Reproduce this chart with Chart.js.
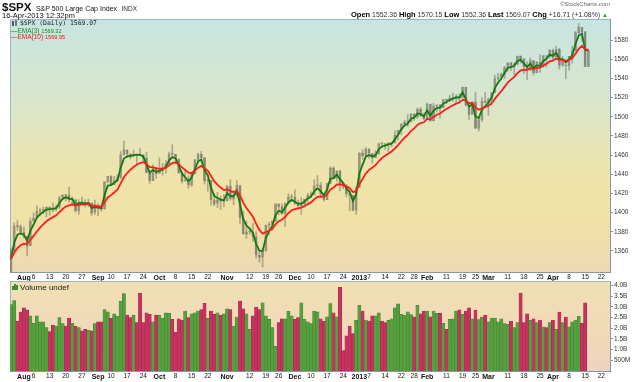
<!DOCTYPE html>
<html>
<head>
<meta charset="utf-8">
<script src="https://cdn.jsdelivr.net/npm/chart.js@4.4.1/dist/chart.umd.min.js"></script>
<style>
  html,body{margin:0;padding:0;background:#fff;}
  #wrap{position:relative;width:640px;height:382px;overflow:hidden;font-family:'Liberation Sans',Arial,sans-serif;color:#111;}
  .abs{position:absolute;white-space:nowrap;}
  canvas{position:absolute;left:0;}
</style>
</head>
<body>
<div id="wrap">
  <canvas id="price" width="640" height="283" style="top:0"></canvas>
  <canvas id="vol" width="640" height="110" style="top:272px"></canvas>

  <div class="abs" style="left:2px;top:0px;line-height:12px;"><b style="font-size:11.5px;">$SPX</b> <span style="font-size:7px;">S&amp;P 500 Large Cap Index</span> <span style="font-size:6.5px;color:#333;">INDX</span></div>
  <div class="abs" style="left:2px;top:11px;font-size:7.5px;line-height:9px;">16-Apr-2013 12:32pm</div>
  <div class="abs" style="right:30px;top:0px;font-size:6px;color:#666;line-height:8px;">&copy;StockCharts.com</div>
  <div class="abs" style="right:32px;top:10px;font-size:6.9px;color:#333;line-height:10px;"><b style="font-size:7.5px;color:#000;">Open</b> 1552.36 <b style="font-size:7.5px;color:#000;">High</b> 1570.15 <b style="font-size:7.5px;color:#000;">Low</b> 1552.36 <b style="font-size:7.5px;color:#000;">Last</b> 1569.07 <b style="font-size:7.5px;color:#000;">Chg</b> +16.71 (+1.08%) <span style="color:#2a9a2a;font-size:6px;">&#9650;</span></div>

  <div class="abs" style="left:12px;top:20px;height:7px;">
    <span style="position:absolute;left:0;top:1px;width:2px;height:5px;background:#555;"></span>
    <span style="position:absolute;left:3px;top:0px;width:2px;height:6px;background:#777;"></span>
  </div>
  <div class="abs" style="left:20px;top:19px;font-family:'DejaVu Sans Mono',monospace;font-size:6.4px;line-height:8px;color:#222;">$SPX (Daily) 1569.07</div>
  <div class="abs" style="left:11px;top:26.5px;font-size:6.5px;line-height:8px;color:#1f8a1f;">&mdash;EMA(3) <span style="font-size:5.6px;">1569.32</span></div>
  <div class="abs" style="left:11px;top:33px;font-size:6.5px;line-height:8px;color:#e02020;">&mdash;EMA(10) <span style="font-size:5.6px;">1569.95</span></div>

  <div class="abs" style="left:12px;top:284px;height:6px;">
    <span style="position:absolute;left:0;top:2px;width:1.5px;height:4px;background:#3f8f30;"></span>
    <span style="position:absolute;left:2px;top:0px;width:1.5px;height:6px;background:#3f8f30;"></span>
    <span style="position:absolute;left:4px;top:1px;width:1.5px;height:5px;background:#3f8f30;"></span>
  </div>
  <div class="abs" style="left:20px;top:282.5px;font-size:8px;line-height:9px;color:#222;">Volume undef</div>
</div>

<script>
// ---------------- DATA ----------------
const dates = [
  '2012-07-26','2012-07-27','2012-07-30','2012-07-31',
  '2012-08-01','2012-08-02','2012-08-03','2012-08-06','2012-08-07','2012-08-08','2012-08-09','2012-08-10','2012-08-13','2012-08-14','2012-08-15','2012-08-16','2012-08-17','2012-08-20','2012-08-21','2012-08-22','2012-08-23','2012-08-24','2012-08-27','2012-08-28','2012-08-29','2012-08-30','2012-08-31',
  '2012-09-04','2012-09-05','2012-09-06','2012-09-07','2012-09-10','2012-09-11','2012-09-12','2012-09-13','2012-09-14','2012-09-17','2012-09-18','2012-09-19','2012-09-20','2012-09-21','2012-09-24','2012-09-25','2012-09-26','2012-09-27','2012-09-28',
  '2012-10-01','2012-10-02','2012-10-03','2012-10-04','2012-10-05','2012-10-08','2012-10-09','2012-10-10','2012-10-11','2012-10-12','2012-10-15','2012-10-16','2012-10-17','2012-10-18','2012-10-19','2012-10-22','2012-10-23','2012-10-24','2012-10-25','2012-10-26','2012-10-31',
  '2012-11-01','2012-11-02','2012-11-05','2012-11-06','2012-11-07','2012-11-08','2012-11-09','2012-11-12','2012-11-13','2012-11-14','2012-11-15','2012-11-16','2012-11-19','2012-11-20','2012-11-21','2012-11-23','2012-11-26','2012-11-27','2012-11-28','2012-11-29','2012-11-30',
  '2012-12-03','2012-12-04','2012-12-05','2012-12-06','2012-12-07','2012-12-10','2012-12-11','2012-12-12','2012-12-13','2012-12-14','2012-12-17','2012-12-18','2012-12-19','2012-12-20','2012-12-21','2012-12-24','2012-12-26','2012-12-27','2012-12-28','2012-12-31',
  '2013-01-02','2013-01-03','2013-01-04','2013-01-07','2013-01-08','2013-01-09','2013-01-10','2013-01-11','2013-01-14','2013-01-15','2013-01-16','2013-01-17','2013-01-18','2013-01-22','2013-01-23','2013-01-24','2013-01-25','2013-01-28','2013-01-29','2013-01-30','2013-01-31',
  '2013-02-01','2013-02-04','2013-02-05','2013-02-06','2013-02-07','2013-02-08','2013-02-11','2013-02-12','2013-02-13','2013-02-14','2013-02-15','2013-02-19','2013-02-20','2013-02-21','2013-02-22','2013-02-25','2013-02-26','2013-02-27','2013-02-28',
  '2013-03-01','2013-03-04','2013-03-05','2013-03-06','2013-03-07','2013-03-08','2013-03-11','2013-03-12','2013-03-13','2013-03-14','2013-03-15','2013-03-18','2013-03-19','2013-03-20','2013-03-21','2013-03-22','2013-03-25','2013-03-26','2013-03-27','2013-03-28',
  '2013-04-01','2013-04-02','2013-04-03','2013-04-04','2013-04-05','2013-04-08','2013-04-09','2013-04-10','2013-04-11','2013-04-12','2013-04-15','2013-04-16'
];
// empty trading days kept at the right side of the time axis
const futureDates = ['2013-04-17','2013-04-18','2013-04-19','2013-04-22','2013-04-23','2013-04-24','2013-04-25'];

const open = [
  1338.2,1360.1,1385.9,1385.3,
  1379.3,1375.1,1365.5,1391.0,1394.5,1401.2,1402.3,1402.6,1405.9,1404.4,1403.9,1405.6,1415.8,1417.9,1418.1,1413.1,1413.5,1401.9,1411.1,1410.4,1409.3,1410.1,1400.1,
  1406.5,1404.9,1403.7,1432.1,1437.9,1429.1,1433.6,1436.6,1460.1,1465.4,1461.2,1459.5,1461.1,1460.3,1459.8,1456.9,1441.6,1433.4,1447.1,
  1440.9,1444.9,1446.1,1451.1,1461.4,1460.9,1455.9,1441.5,1432.8,1432.8,1428.8,1440.3,1454.2,1460.9,1457.3,1433.2,1433.7,1413.2,1409.7,1413.0,1411.0,
  1412.2,1427.6,1414.0,1417.3,1428.3,1394.5,1377.6,1379.9,1380.0,1374.6,1355.4,1353.4,1359.9,1386.8,1387.8,1391.0,1409.2,1406.3,1398.8,1410.0,1416.0,
  1416.3,1409.5,1407.1,1409.4,1414.0,1418.1,1418.6,1427.8,1428.5,1419.5,1413.5,1430.5,1446.8,1435.8,1443.7,1430.2,1426.7,1419.8,1418.1,1402.4,
  1426.2,1462.4,1459.4,1466.5,1461.9,1457.2,1461.0,1472.1,1472.1,1470.7,1472.3,1472.6,1480.9,1486.0,1492.6,1494.8,1494.8,1503.0,1500.2,1507.8,1502.0,
  1498.1,1513.2,1495.7,1511.3,1512.1,1509.4,1517.9,1517.0,1519.4,1520.3,1521.4,1519.8,1530.9,1512.0,1502.4,1515.6,1487.9,1496.9,1516.0,
  1514.7,1518.2,1525.2,1539.8,1541.5,1544.3,1551.2,1556.2,1552.5,1554.5,1563.2,1560.7,1552.1,1548.3,1558.7,1545.9,1556.9,1551.7,1563.8,1562.9,
  1569.2,1562.2,1570.3,1553.7,1553.5,1553.3,1563.1,1568.6,1587.7,1593.3,1588.8,1552.36
];
const high = [
  1363.1,1389.2,1391.7,1387.2,
  1385.0,1375.1,1394.2,1399.6,1407.1,1404.1,1405.9,1405.9,1405.9,1410.0,1407.7,1417.4,1418.7,1418.7,1426.7,1416.1,1413.5,1413.5,1416.2,1413.6,1413.9,1410.1,1413.1,
  1409.3,1408.8,1432.4,1438.0,1438.7,1437.8,1439.2,1463.8,1474.5,1465.6,1461.5,1465.1,1461.2,1467.1,1460.7,1463.2,1441.6,1450.2,1447.1,
  1457.1,1451.5,1454.3,1463.1,1471.0,1460.9,1455.9,1442.5,1443.9,1438.4,1441.3,1455.5,1462.2,1464.0,1457.3,1435.5,1433.7,1420.0,1421.1,1417.1,1418.8,
  1428.4,1434.3,1419.9,1433.4,1428.3,1401.2,1391.4,1384.9,1388.8,1380.1,1360.6,1362.0,1386.9,1389.7,1391.2,1409.2,1409.2,1409.0,1410.0,1419.7,1418.9,
  1423.7,1413.1,1415.6,1414.2,1420.3,1421.6,1434.3,1438.6,1431.4,1419.5,1430.7,1448.0,1447.8,1443.7,1443.7,1430.2,1429.4,1422.8,1418.1,1426.7,
  1462.5,1465.5,1467.9,1466.5,1461.9,1464.7,1472.3,1472.8,1472.1,1473.3,1473.0,1485.2,1486.0,1492.6,1496.1,1502.3,1503.3,1503.2,1509.3,1509.9,1504.2,
  1514.4,1513.2,1514.0,1512.5,1512.9,1518.3,1518.3,1522.3,1524.7,1523.1,1524.2,1531.0,1530.9,1512.0,1515.6,1525.8,1498.9,1520.1,1525.3,
  1520.0,1525.3,1543.5,1545.3,1545.8,1552.5,1556.3,1556.8,1556.4,1563.3,1563.6,1560.7,1557.3,1561.6,1558.7,1557.7,1564.9,1563.9,1563.8,1570.3,
  1570.6,1573.7,1571.5,1562.6,1553.5,1563.1,1573.9,1589.1,1597.4,1593.3,1588.8,1570.15
];
const low = [
  1338.2,1360.1,1381.4,1379.2,
  1373.6,1354.7,1365.5,1391.0,1394.5,1396.6,1398.8,1395.6,1397.3,1400.6,1401.8,1404.2,1414.7,1412.1,1410.9,1406.8,1400.5,1398.0,1409.1,1405.6,1406.2,1397.0,1398.0,
  1396.6,1401.3,1403.7,1431.1,1428.9,1429.1,1432.0,1435.3,1460.1,1457.6,1456.1,1457.9,1449.9,1459.5,1452.1,1441.5,1430.5,1433.4,1435.6,
  1440.9,1439.0,1441.0,1451.1,1456.9,1453.1,1441.2,1430.6,1432.8,1425.5,1427.2,1440.3,1453.3,1452.6,1429.9,1422.1,1407.6,1407.1,1405.1,1403.3,1405.9,
  1412.2,1412.9,1408.1,1417.3,1388.1,1377.5,1373.0,1377.2,1370.0,1352.5,1348.1,1343.3,1359.9,1377.0,1386.4,1391.0,1397.7,1398.0,1385.4,1409.0,1411.6,
  1408.5,1403.7,1398.2,1405.6,1410.9,1415.6,1418.6,1426.8,1416.0,1411.9,1413.5,1430.5,1435.8,1432.8,1422.6,1424.7,1416.4,1401.8,1401.6,1398.1,
  1426.2,1455.5,1458.6,1456.6,1451.6,1457.2,1461.0,1467.6,1465.7,1463.8,1468.7,1472.6,1475.8,1481.2,1489.9,1489.5,1494.8,1496.3,1498.1,1500.1,1496.8,
  1498.1,1495.0,1495.7,1504.7,1498.5,1509.4,1513.6,1515.6,1515.9,1514.0,1514.1,1519.8,1511.4,1497.3,1502.4,1487.8,1485.0,1494.9,1514.5,
  1501.5,1512.3,1525.2,1538.1,1541.5,1539.9,1547.4,1548.2,1544.0,1554.5,1555.7,1545.1,1538.6,1548.3,1543.6,1545.9,1546.2,1551.7,1551.9,1561.1,
  1558.5,1562.2,1549.8,1552.5,1539.5,1548.6,1556.0,1568.6,1586.2,1579.0,1552.3,1552.36
];
const close = [
  1360.02,1385.97,1385.30,1379.32,
  1375.32,1365.00,1390.99,1394.23,1401.35,1402.22,1402.80,1405.87,1404.11,1403.93,1405.53,1415.51,1418.16,1418.13,1413.17,1413.49,1402.08,1411.13,1410.44,1409.30,1410.49,1399.48,1406.58,
  1404.94,1403.44,1432.12,1437.92,1429.08,1433.56,1436.56,1459.99,1465.77,1461.19,1459.32,1461.05,1460.26,1460.15,1456.89,1441.59,1433.32,1447.15,1440.67,
  1444.49,1445.75,1450.99,1461.40,1460.93,1455.88,1441.48,1432.56,1432.84,1428.59,1440.13,1454.92,1460.91,1457.34,1433.19,1433.81,1413.11,1408.75,1412.97,1411.94,1412.16,
  1427.59,1414.20,1417.26,1428.39,1394.53,1377.51,1379.85,1380.03,1374.53,1355.49,1353.33,1359.88,1386.89,1387.81,1391.03,1409.15,1406.29,1398.94,1409.93,1415.95,1416.18,
  1409.46,1407.05,1409.28,1413.94,1418.07,1418.55,1427.84,1428.48,1419.45,1413.58,1430.36,1446.79,1435.81,1443.69,1430.15,1426.66,1419.83,1418.10,1402.43,1426.19,
  1462.42,1459.37,1466.47,1461.89,1457.15,1461.02,1472.12,1472.05,1470.68,1472.34,1472.63,1480.94,1485.98,1492.56,1494.81,1494.82,1502.96,1500.18,1507.84,1501.96,1498.11,
  1513.17,1495.71,1511.29,1512.12,1509.39,1517.93,1517.01,1519.43,1520.33,1521.38,1519.79,1530.94,1511.95,1502.42,1515.60,1487.85,1496.94,1515.99,1514.68,
  1518.20,1525.20,1539.79,1541.46,1544.26,1551.18,1556.22,1552.48,1554.52,1563.23,1560.70,1552.10,1548.34,1558.71,1545.80,1556.89,1551.69,1563.77,1562.85,1569.19,
  1562.17,1570.25,1553.69,1559.98,1553.28,1563.07,1568.61,1587.73,1593.37,1588.85,1552.36,1569.07
];
// volume in billions of shares; today's volume is undefined
const volume = [
  3.10,3.29,2.33,2.75,
  2.95,2.86,2.57,2.23,2.57,2.30,2.29,2.03,1.84,2.14,2.10,2.49,2.21,2.10,2.46,2.23,2.10,2.03,1.87,1.95,1.90,1.87,2.21,
  2.29,2.29,2.87,2.76,2.46,2.67,2.55,3.26,3.61,2.61,2.49,2.61,2.26,3.64,2.26,2.72,2.64,2.30,2.61,
  2.61,2.46,2.72,2.69,2.41,1.80,2.44,2.37,2.80,2.49,2.67,2.72,2.80,2.87,3.16,2.46,2.80,2.64,2.72,2.61,2.67,
  2.90,2.87,2.10,2.52,3.26,2.90,2.67,1.94,2.57,2.98,2.87,3.18,2.57,2.41,2.03,1.15,2.26,2.44,2.44,2.80,2.57,
  2.41,2.49,3.18,2.41,2.30,2.21,2.80,2.76,2.44,2.32,2.53,3.15,2.72,2.53,3.90,0.95,1.64,2.10,1.75,2.37,
  3.07,2.80,2.38,2.33,2.57,2.57,2.72,2.33,2.26,2.37,2.44,2.95,3.13,2.64,2.60,2.76,2.63,2.53,3.07,2.67,2.80,
  2.80,2.53,2.80,2.69,2.70,2.23,1.95,2.41,2.44,2.80,2.86,2.64,2.80,2.95,2.44,2.84,2.40,2.52,2.60,
  2.29,2.47,2.47,2.29,2.43,2.21,2.18,2.32,2.03,2.26,3.64,2.26,2.67,2.37,2.44,2.26,2.38,2.06,2.03,2.26,
  2.37,1.95,2.75,2.26,2.52,2.06,2.30,2.38,2.55,2.23,3.18,null
];
// EMA values of the session before the first plotted day (read from the left edge)
const ema3Start = 1343;
const ema10Start = 1350;

const xTickDates = ['2012-08-01','2012-08-06','2012-08-13','2012-08-20','2012-08-27','2012-09-04','2012-09-10','2012-09-17','2012-09-24','2012-10-01','2012-10-08','2012-10-15','2012-10-22','2012-11-01','2012-11-12','2012-11-19','2012-11-26','2012-12-03','2012-12-10','2012-12-17','2012-12-24','2013-01-02','2013-01-07','2013-01-14','2013-01-22','2013-01-28','2013-02-01','2013-02-11','2013-02-19','2013-02-25','2013-03-01','2013-03-11','2013-03-18','2013-03-25','2013-04-01','2013-04-08','2013-04-15','2013-04-22'];
const xTickLabels = ['Aug','6','13','20','27','Sep','10','17','24','Oct','8','15','22','Nov','12','19','26','Dec','10','17','24','2013','7','14','22','28','Feb','11','19','25','Mar','11','18','25','Apr','8','15','22'];
const boldLabels = ['Aug','Sep','Oct','Nov','Dec','2013','Feb','Mar','Apr'];
const priceTicks = [1360,1380,1400,1420,1440,1460,1480,1500,1520,1540,1560,1580];
const volumeTicks = [0.5,1.0,1.5,2.0,2.5,3.0,3.5,4.0];

// ---------------- DERIVED ----------------
function ema(values, period, start) {
  const k = 2 / (period + 1);
  let prev = start;
  return values.map(v => (prev = v * k + prev * (1 - k)));
}
const ema3 = ema(close, 3, ema3Start);
const ema10 = ema(close, 10, ema10Start);
const axisDates = dates.concat(futureDates);
const tickIdx = xTickDates.map(d => axisDates.indexOf(d));
const X_MIN = -0.31, X_MAX = axisDates.length - 1 - 0.3;

const FONT = "'Liberation Sans', Arial, sans-serif";
const candleLine = 'rgba(110,110,98,0.5)';
const candleFill = 'rgba(110,110,98,0.38)';

const bgPlugin = {
  id: 'panelBg',
  beforeDraw(chart, args, opts) {
    const { ctx, chartArea: a } = chart;
    const g = ctx.createLinearGradient(0, a.top, 0, a.bottom);
    opts.stops.forEach(s => g.addColorStop(s[0], s[1]));
    ctx.save();
    ctx.fillStyle = g;
    ctx.fillRect(a.left, a.top, a.right - a.left, a.bottom - a.top);
    ctx.strokeStyle = 'rgba(140,168,196,0.8)';
    ctx.lineWidth = 1;
    ctx.beginPath();
    ctx.moveTo(a.left + 0.5, a.bottom);
    ctx.lineTo(a.left + 0.5, a.top + 0.5);
    ctx.lineTo(a.right, a.top + 0.5);
    ctx.stroke();
    ctx.restore();
  }
};

function xScale() {
  return {
    type: 'linear', min: X_MIN, max: X_MAX, offset: false,
    afterBuildTicks: s => { s.ticks = tickIdx.map(v => ({ value: v })); },
    afterFit: s => { s.height = 11; },
    grid: { display: false, drawTicks: false },
    border: { display: true, color: 'rgba(120,140,165,0.9)', dash: [1, 2] },
    ticks: {
      autoSkip: false, maxRotation: 0, minRotation: 0, padding: 1.5, color: '#111',
      font: c => ({ family: FONT, size: boldLabels.includes(xTickLabels[c.index]) ? 7 : 6.5, weight: boldLabels.includes(xTickLabels[c.index]) ? 'bold' : 'normal' }),
      callback: (v, i) => xTickLabels[i]
    }
  };
}

// ---------------- PRICE CHART ----------------
new Chart(document.getElementById('price'), {
  type: 'bar',
  data: {
    datasets: [
      { type: 'line', label: 'EMA(10)', data: ema10.map((v, i) => ({ x: i, y: v })), borderColor: '#ff1c1c', borderWidth: 1.8, pointRadius: 0, tension: 0, order: 0 },
      { type: 'line', label: 'EMA(3)', data: ema3.map((v, i) => ({ x: i, y: v })), borderColor: '#137a13', borderWidth: 1.8, pointRadius: 0, tension: 0, order: 1 },
      { type: 'bar', label: 'body', data: close.map((c, i) => ({ x: i, y: [Math.min(open[i], c), Math.max(open[i], c)] })),
        backgroundColor: c => (close[c.dataIndex] < open[c.dataIndex] ? candleFill : 'rgba(0,0,0,0)'),
        borderColor: candleLine, borderWidth: 0.7, borderSkipped: false, barThickness: 2.4, minBarLength: 1, grouped: false, order: 2 },
      { type: 'bar', label: 'wick', data: close.map((c, i) => ({ x: i, y: [low[i], high[i]] })),
        backgroundColor: candleLine, borderWidth: 0, barThickness: 1, grouped: false, order: 3 }
    ]
  },
  options: {
    responsive: false, animation: false, maintainAspectRatio: false,
    layout: { padding: { left: 10, top: 19, right: 0, bottom: 0 } },
    plugins: {
      legend: { display: false }, tooltip: { enabled: false },
      panelBg: { stops: [[0, '#c6e5e1'], [0.3, '#d8e6cd'], [0.62, '#efe4ab'], [0.8, '#f1e1a6'], [1, '#eed9b2']] }
    },
    scales: {
      x: xScale(),
      y: {
        position: 'right', min: 1338, max: 1602, beginAtZero: false,
        afterBuildTicks: s => { s.ticks = priceTicks.map(v => ({ value: v })); },
        afterFit: s => { s.width = 30; },
        grid: { drawOnChartArea: false, drawTicks: true, tickLength: 3, color: 'rgba(120,140,165,0.9)' },
        border: { display: true, color: 'rgba(120,140,165,0.9)', dash: [1, 2] },
        ticks: { padding: 1, color: '#333', font: { family: FONT, size: 6.5 }, callback: v => String(v) }
      }
    }
  },
  plugins: [bgPlugin]
});

// ---------------- VOLUME CHART ----------------
new Chart(document.getElementById('vol'), {
  type: 'bar',
  data: {
    datasets: [
      { label: 'Volume', data: volume.map((v, i) => ({ x: i, y: v })),
        backgroundColor: c => { const i = c.dataIndex; return (i > 0 && close[i] < close[i - 1]) ? '#c7335f' : '#56a040'; },
        borderColor: c => { const i = c.dataIndex; return (i > 0 && close[i] < close[i - 1]) ? '#a4244a' : '#3d7e2c'; },
        borderWidth: 0.5, borderSkipped: 'bottom', barThickness: 3.2, grouped: false }
    ]
  },
  options: {
    responsive: false, animation: false, maintainAspectRatio: false,
    layout: { padding: { left: 10, top: 9, right: 0, bottom: 0 } },
    plugins: {
      legend: { display: false }, tooltip: { enabled: false },
      panelBg: { stops: [[0, '#f0e0b3'], [0.5, '#f0dab6'], [1, '#efd3bf']] }
    },
    scales: {
      x: xScale(),
      y: {
        position: 'right', min: 0, max: 4.2,
        afterBuildTicks: s => { s.ticks = volumeTicks.map(v => ({ value: v })); },
        afterFit: s => { s.width = 30; },
        grid: { drawOnChartArea: false, drawTicks: true, tickLength: 3, color: 'rgba(120,140,165,0.9)' },
        border: { display: true, color: 'rgba(120,140,165,0.9)', dash: [1, 2] },
        ticks: { padding: 1, color: '#333', font: { family: FONT, size: 6.5 },
          callback: v => (v < 1 ? Math.round(v * 1000) + 'M' : v.toFixed(1) + 'B') }
      }
    }
  },
  plugins: [bgPlugin]
});
</script>
</body>
</html>
